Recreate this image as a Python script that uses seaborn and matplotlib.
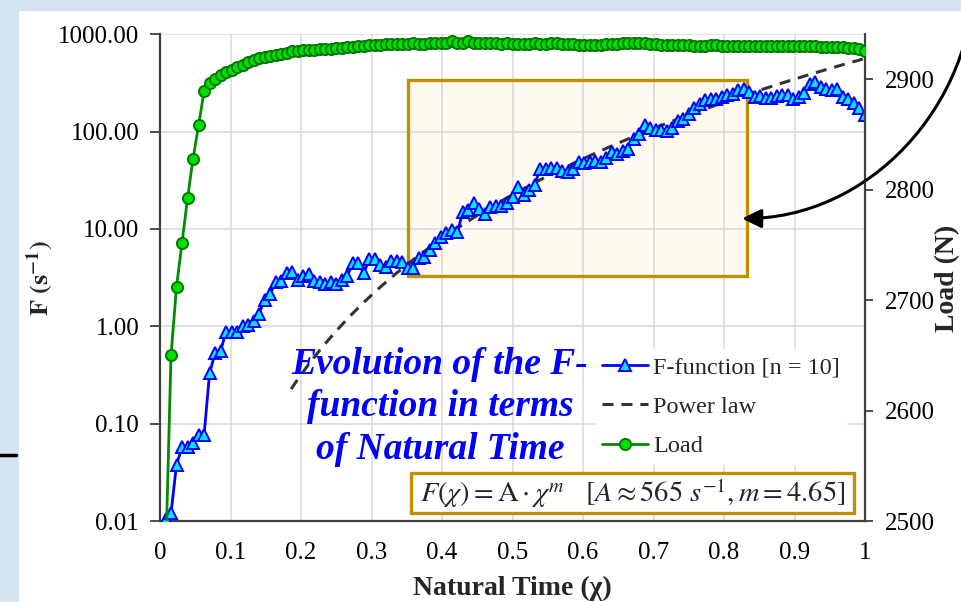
import numpy as np
import pandas as pd
import matplotlib
matplotlib.use("Agg")
import matplotlib.pyplot as plt
import seaborn as sns
from matplotlib.patches import Rectangle, FancyArrowPatch
from matplotlib.path import Path
from matplotlib.lines import Line2D
from matplotlib.ticker import NullLocator

# ---- data -------------------------------------------------------------
N_EVENTS = 128
chi = np.arange(1, N_EVENTS + 1) / N_EVENTS  # natural time chi_k = k / N

f_function = [
    0.0105, 0.012, 0.038, 0.057, 0.057, 0.064, 0.076, 0.076, 0.33, 0.53,
    0.56, 0.88, 0.87, 0.88, 1.00, 1.03, 1.13, 1.35, 1.88, 2.14,
    2.86, 2.93, 3.54, 3.62, 2.98, 3.27, 3.41, 2.93, 2.82, 2.69,
    2.86, 2.75, 2.98, 3.27, 4.45, 4.45, 3.49, 4.95, 4.90, 4.30,
    4.05, 4.70, 4.65, 4.62, 3.95, 4.00, 4.98, 5.17, 6.06, 7.10,
    8.29, 8.99, 9.72, 9.34, 15.0, 15.6, 18.7, 16.2, 14.1, 16.9,
    17.3, 17.3, 18.3, 21.4, 27.1, 22.2, 25.0, 28.2, 41.1, 41.8,
    42.4, 42.4, 39.5, 38.6, 41.8, 48.9, 47.1, 48.9, 50.0, 48.9,
    53.0, 62.0, 59.6, 63.4, 67.1, 85.0, 94.0, 116, 110, 105,
    105, 102, 108, 129, 136, 153, 175, 194, 210, 215,
    219, 227, 236, 246, 266, 277, 256, 227, 233, 224,
    224, 233, 236, 240, 215, 227, 252, 312, 324, 288,
    272, 266, 272, 227, 215, 199, 173, 147,
]

load = [
    2460, 2650, 2712, 2752, 2792, 2828, 2858, 2889, 2896, 2900,
    2904, 2906, 2908, 2911, 2913, 2915, 2917, 2919, 2920, 2921,
    2922, 2923, 2924, 2925, 2925, 2926, 2926, 2926, 2927, 2927,
    2927, 2928, 2928, 2929, 2929, 2930, 2930, 2931, 2931, 2931,
    2932, 2932, 2932, 2932, 2932, 2933, 2932, 2932, 2933, 2933,
    2933, 2933, 2934, 2933, 2933, 2934, 2933, 2933, 2933, 2933,
    2933, 2932, 2933, 2932, 2932, 2932, 2932, 2933, 2932, 2932,
    2933, 2933, 2932, 2932, 2932, 2931, 2931, 2931, 2931, 2931,
    2932, 2932, 2932, 2933, 2933, 2933, 2933, 2933, 2932, 2932,
    2931, 2931, 2931, 2931, 2931, 2931, 2930, 2930, 2930, 2931,
    2931, 2930, 2930, 2930, 2930, 2930, 2930, 2930, 2930, 2930,
    2930, 2930, 2930, 2930, 2930, 2930, 2930, 2930, 2930, 2929,
    2929, 2929, 2929, 2929, 2928, 2928, 2927, 2925,
]

# power-law fit F = A * chi^m
A_FIT = 565.0
M_FIT = 4.65
fit_start = 0.186

x_ticks = [0, 0.1, 0.2, 0.3, 0.4, 0.5, 0.6, 0.7, 0.8, 0.9, 1.0]
x_tick_labels = ["0", "0.1", "0.2", "0.3", "0.4", "0.5", "0.6", "0.7", "0.8", "0.9", "1"]
f_ticks = [0.01, 0.1, 1, 10, 100, 1000]
f_tick_labels = ["0.01", "0.10", "1.00", "10.00", "100.00", "1000.00"]
load_ticks = [2500, 2600, 2700, 2800, 2900]
load_tick_labels = ["2500", "2600", "2700", "2800", "2900"]

legend_labels = ["F-function [n = 10]", "Power law", "Load"]

df_f = pd.DataFrame({"chi": chi, "F": f_function})
df_load = pd.DataFrame({"chi": chi, "load": load})
chi_fit = np.linspace(fit_start, 1.0, 200)
df_fit = pd.DataFrame({"chi": chi_fit, "F": A_FIT * chi_fit ** M_FIT})

# ---- style ------------------------------------------------------------
sns.set_theme(style="white")
plt.rcParams["font.family"] = ["Liberation Serif", "DejaVu Serif"]
plt.rcParams["mathtext.fontset"] = "stix"

W, H = 961, 602
fig = plt.figure(figsize=(W / 100, H / 100), dpi=100)
fig.patch.set_facecolor("#d6e4f2")
fig.add_artist(Rectangle((19 / W, 0), 1 - 19 / W, (H - 11) / H,
                         transform=fig.transFigure, facecolor="white",
                         edgecolor="none", zorder=-5))
fig.add_artist(Line2D([0, 16 / W], [1 - 455 / H] * 2, color="black", lw=2.5,
                      transform=fig.transFigure))

ax = fig.add_axes([160 / W, (H - 521) / H, 705 / W, (521 - 34.3) / H])
ax2 = ax.twinx()
ax.set_zorder(1)
ax2.set_zorder(2)

BLUE = "#0000ff"
GREEN = "#008c00"
SPINE = "#404040"

sns.lineplot(data=df_f, x="chi", y="F", ax=ax, estimator=None, sort=False,
             color=BLUE, lw=2, marker="^", markersize=9,
             markerfacecolor="#00e5ff", markeredgecolor=BLUE,
             markeredgewidth=1.4, legend=False, zorder=3)
sns.lineplot(data=df_fit, x="chi", y="F", ax=ax, estimator=None, sort=False,
             color="#333333", lw=2.2, linestyle=(0, (3.6, 2.6)),
             legend=False, zorder=2.5)
sns.lineplot(data=df_load, x="chi", y="load", ax=ax2, estimator=None, sort=False,
             color=GREEN, lw=2, marker="o", markersize=8,
             markerfacecolor="#00e000", markeredgecolor="#007800",
             markeredgewidth=1.4, legend=False, zorder=3)

# primary axis (F)
ax.set_yscale("log")
ax.set_xlim(0, 1)
ax.set_ylim(0.01, 1000)
ax.set_xticks(x_ticks)
ax.set_xticklabels(x_tick_labels)
ax.set_yticks(f_ticks)
ax.set_yticklabels(f_tick_labels)
ax.yaxis.set_minor_locator(NullLocator())
ax.set_xlabel("")
ax.set_ylabel("")
ax.grid(True, color="#d9d9d9", lw=1.1)
ax.set_axisbelow(True)
for side in ["top", "right"]:
    ax.spines[side].set_visible(False)
for side in ["left", "bottom"]:
    ax.spines[side].set_color(SPINE)
    ax.spines[side].set_linewidth(1.6)
ax.tick_params(axis="both", direction="out", length=7, width=1.3,
               color=SPINE, labelsize=18, labelcolor="black", pad=8)

# secondary axis (Load)
ax2.set_ylim(2500, 2940.5)
ax2.set_yticks(load_ticks)
ax2.set_yticklabels(load_tick_labels)
ax2.set_ylabel("")
ax2.grid(False)
for side in ["top", "left", "bottom"]:
    ax2.spines[side].set_visible(False)
ax2.spines["right"].set_color(SPINE)
ax2.spines["right"].set_linewidth(1.6)
ax2.tick_params(axis="y", direction="out", length=6, width=1.3,
                color=SPINE, labelsize=18, labelcolor="black", pad=8)

# highlighted power-law region
x0, x1, y0, y1 = 0.352, 0.833, 3.27, 337
ax.add_patch(Rectangle((x0, y0), x1 - x0, y1 - y0, facecolor="#fffaf0",
                       edgecolor="none", zorder=0.2))
ax.add_patch(Rectangle((x0, y0), x1 - x0, y1 - y0, facecolor="none",
                       edgecolor="#bf9000", lw=2.4, zorder=1.5))

# axis titles
fig.text(40 / W, 1 - 278 / H, r"$\mathbf{F\ (s^{-1})}$", rotation=90,
         ha="center", va="center", fontsize=19)
fig.text(512 / W, 1 - 588 / H, "Natural Time (χ)", ha="center", va="center",
         fontsize=20, fontweight="bold")
fig.text(948 / W, 1 - 278 / H, "Load (N)", rotation=90, ha="center",
         va="center", fontsize=20, fontweight="bold")

# annotation text
fig.text(440 / W, 1 - 407 / H, "Evolution of the F-\nfunction in terms\nof Natural Time",
         ha="center", va="center", color=BLUE, fontsize=27, fontweight="bold",
         fontstyle="italic", linespacing=1.27, zorder=6)

# legend
handles = [ax.lines[0], ax.lines[1], ax2.lines[0]]
leg = fig.legend(handles, legend_labels, loc="upper left",
                 bbox_to_anchor=(595 / W, 1 - 349 / H), frameon=True,
                 facecolor="white", edgecolor="none", framealpha=1,
                 fancybox=False, fontsize=17.5, handlelength=1.9,
                 handletextpad=0.2, labelspacing=0.72, borderpad=0.3,
                 borderaxespad=0, numpoints=1)
leg.set_zorder(6)

# fitted equation box
fig.add_artist(Rectangle((411 / W, 1 - 513 / H), 443 / W, 40 / H,
                         transform=fig.transFigure, facecolor="white",
                         edgecolor="#bf9000", lw=2.4, zorder=6))
fig.text(633 / W, 1 - 493 / H,
         r"$F(\chi) = \mathrm{A}\cdot\chi^{m}\quad[A \approx 565\ s^{-1}, m = 4.65]$",
         ha="center", va="center", fontsize=20.5, zorder=7)

# curved arrow pointing to the highlighted region
pts = [(975, -30), (975, 107), (868, 219), (742, 218.5)]
verts = [(px / W, 1 - py / H) for px, py in pts]
arrow_path = Path(verts, [Path.MOVETO, Path.CURVE4, Path.CURVE4, Path.CURVE4])
fig.add_artist(FancyArrowPatch(path=arrow_path, transform=fig.transFigure,
                               arrowstyle="-|>,head_length=0.45,head_width=0.22",
                               mutation_scale=26, color="black", lw=2.2,
                               zorder=8))

fig.savefig("out.png", dpi=100)
